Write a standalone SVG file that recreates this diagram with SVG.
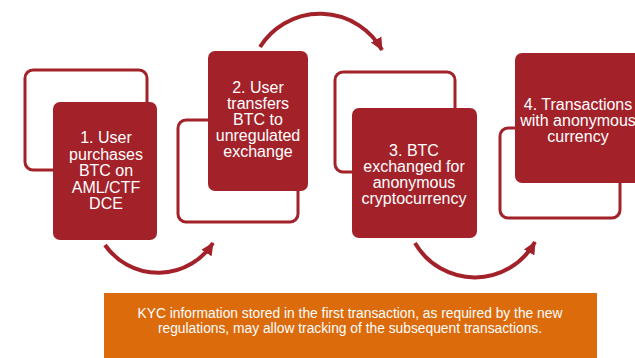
<svg xmlns="http://www.w3.org/2000/svg" width="635" height="358" viewBox="0 0 635 358">
<style>
.outline{fill:none;stroke:#a3222a;stroke-width:3}
.box{fill:#a3222a}
.t{font-family:"Liberation Sans",Arial,sans-serif;font-size:16px;fill:#ffffff;text-anchor:middle}
.arc{fill:none;stroke:#a3222a;stroke-width:4}
.note{fill:#dc6b0c}
.nt{font-family:"Liberation Sans",Arial,sans-serif;font-size:13.8px;fill:#ffffff;text-anchor:middle}
</style>
<defs>
<marker id="ah" markerUnits="userSpaceOnUse" markerWidth="14" markerHeight="14" viewBox="0 0 14 14" refX="12" refY="7" orient="auto">
<path d="M0,1 L13,7 L0,13 Z" fill="#a3222a"/>
</marker>
</defs>
<rect width="635" height="358" fill="#ffffff"/>
<g id="n1">
<rect class="outline" x="25" y="70" width="122" height="100" rx="8"/>
<rect class="box" x="53" y="102" width="104" height="138" rx="7"/>
<text class="t"><tspan x="106" y="143">1. User</tspan><tspan x="106" y="159.5">purchases</tspan><tspan x="106" y="176">BTC on</tspan><tspan x="106" y="192.5">AML/CTF</tspan><tspan x="106" y="209">DCE</tspan></text>
</g>
<g id="n2">
<rect class="outline" x="178" y="120" width="120" height="102" rx="8"/>
<rect class="box" x="208" y="51" width="100" height="140" rx="7"/>
<text class="t"><tspan x="258" y="93">2. User</tspan><tspan x="258" y="109">transfers</tspan><tspan x="258" y="125">BTC to</tspan><tspan x="258" y="141">unregulated</tspan><tspan x="258" y="157">exchange</tspan></text>
</g>
<g id="n3">
<rect class="outline" x="335" y="72" width="120" height="100" rx="8"/>
<rect class="box" x="352" y="108" width="125" height="130" rx="7"/>
<text class="t"><tspan x="414" y="156">3. BTC</tspan><tspan x="414" y="172">exchanged for</tspan><tspan x="414" y="188">anonymous</tspan><tspan x="414" y="204">cryptocurrency</tspan></text>
</g>
<g id="n4">
<rect class="outline" x="500" y="128" width="120" height="90" rx="8"/>
<rect class="box" x="515" y="53" width="126" height="130" rx="7"/>
<text class="t"><tspan x="578" y="110">4. Transactions</tspan><tspan x="578" y="126">with anonymous</tspan><tspan x="578" y="142">currency</tspan></text>
</g>
<g id="connectors">
<path class="arc" d="M105,245 A65,65 0 0 0 213,243" marker-end="url(#ah)"/>
<path class="arc" d="M260,47 A71,71 0 0 1 382,50" marker-end="url(#ah)"/>
<path class="arc" d="M415,243 A69,69 0 0 0 535,242" marker-end="url(#ah)"/>
</g>
<g id="note">
<rect class="note" x="104" y="293" width="493" height="70"/>
<text class="nt"><tspan x="350" y="318">KYC information stored in the first transaction, as required by the new</tspan><tspan x="350" y="333">regulations, may allow tracking of the subsequent transactions.</tspan></text>
</g>
</svg>
